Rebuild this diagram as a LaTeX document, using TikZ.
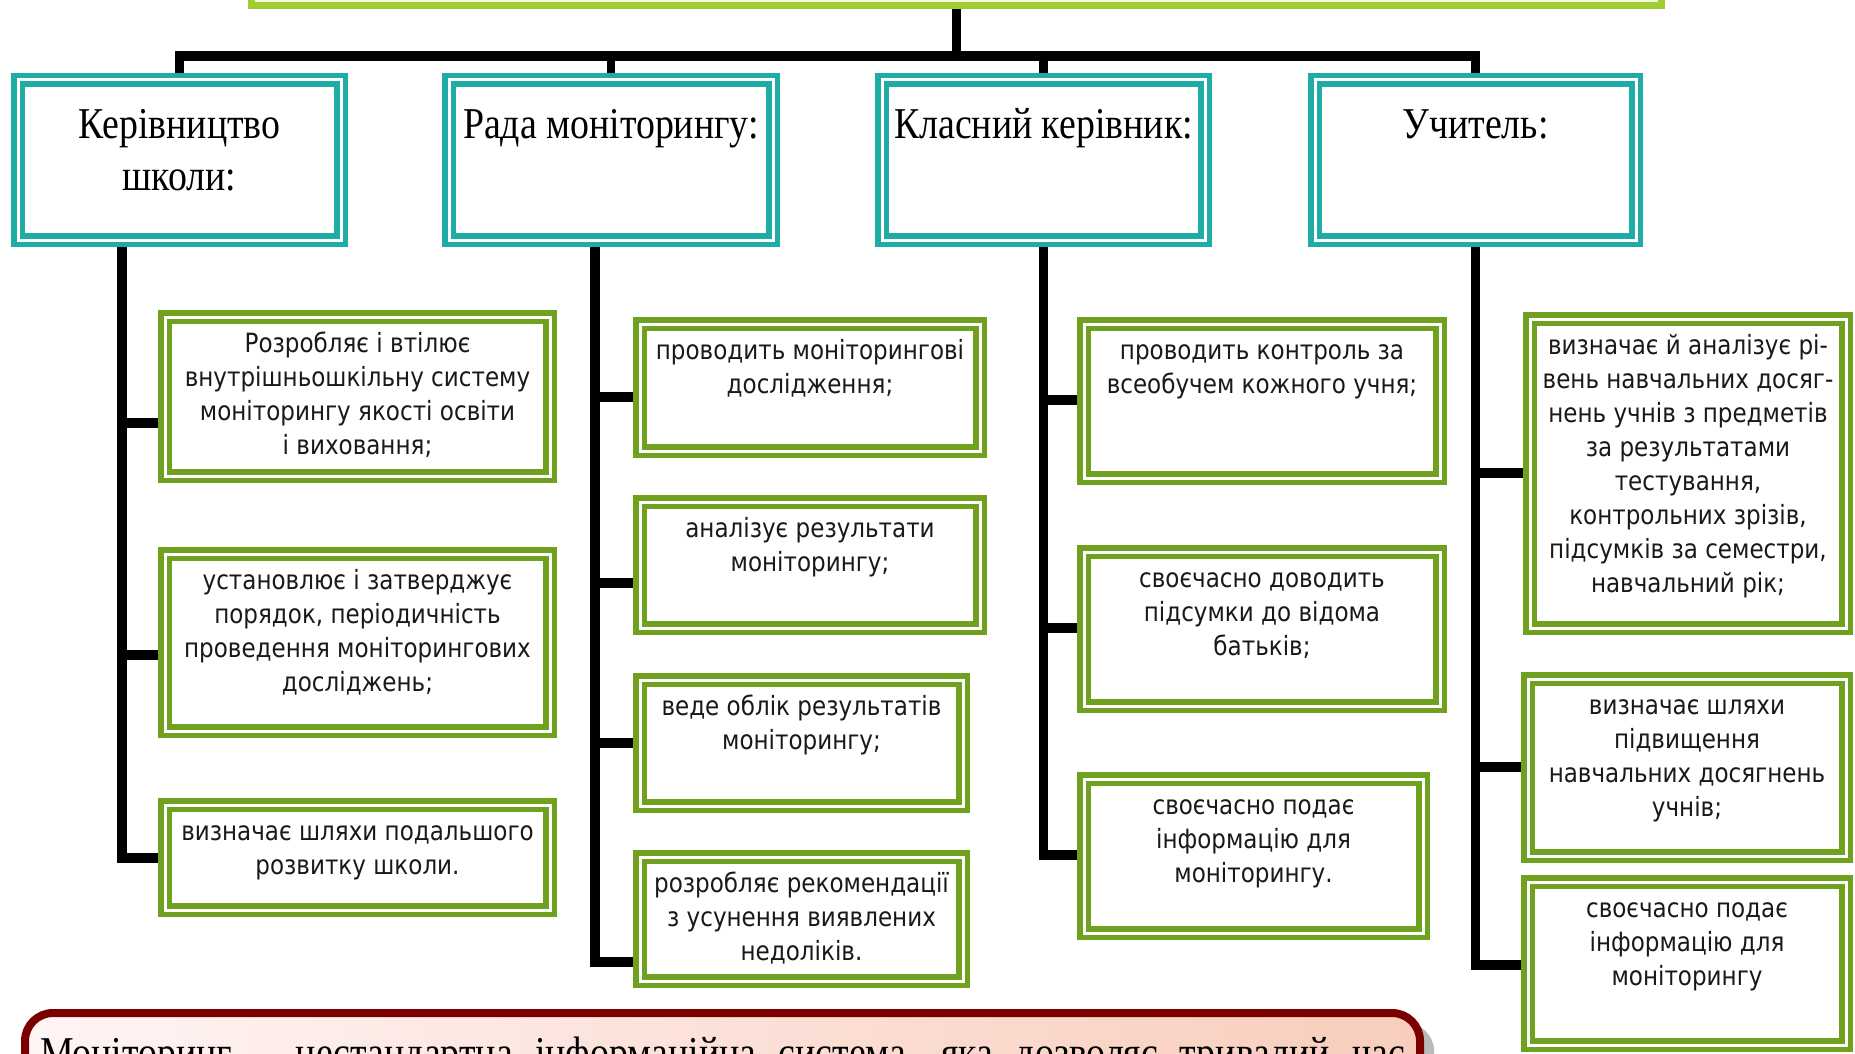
\documentclass[tikz,border=0pt]{standalone}
\usepackage{fontspec}
\setmainfont{Liberation Serif}[FakeStretch=0.86]
\newfontfamily\bodyfont{DejaVu Sans}[FakeStretch=0.87]
\usetikzlibrary{backgrounds,shadows}
\definecolor{tealc}{RGB}{31,172,166}
\definecolor{greenc}{RGB}{111,160,30}
\definecolor{topc}{RGB}{160,205,50}
\definecolor{topfill}{RGB}{242,249,220}
\definecolor{redc}{RGB}{122,0,0}
\definecolor{txtc}{RGB}{25,25,25}
\newcommand\bodytext[3]{\parbox[c][#2][t]{#1}{\centering\bodyfont\fontsize{26.5pt}{34pt}\selectfont\color{txtc}\vspace*{12pt}\strut #3}}
\newcommand\hdrtext[3]{\parbox[c][#2][t]{#1}{\centering\fontsize{44pt}{52pt}\selectfont\vspace*{22pt}\strut #3}}
\tikzset{
  gbox/.style={draw=greenc, double=white, double distance=3pt, line width=5.5pt,
    fill=white, inner sep=0pt, outer sep=0pt, rectangle, anchor=north west},
  hbox/.style={draw=tealc, double=white, double distance=3pt, line width=5.5pt,
    fill=white, inner sep=0pt, outer sep=0pt, rectangle, anchor=north west},
  topbox/.style={draw=topc, line width=7pt, fill=topfill, inner sep=0pt, rectangle},
  conn/.style={draw=black, line width=8.5pt, line cap=rect, line join=miter},
  busline/.style={draw=black, line width=9.5pt, line cap=rect, line join=miter},
  redbox/.style={draw=redc, line width=8pt, rounded corners=28pt, inner sep=0pt,
    left color=white!96!red, right color={rgb,255:red,248;green,205;blue,188}, anchor=north west,
    drop shadow={shadow xshift=14pt, shadow yshift=-10pt, fill=black!45, opacity=0.6}},
}
\begin{document}
\begin{tikzpicture}[x=1pt,y=-1pt]
\useasboundingbox (0,0) rectangle (1855,1054);
\clip (0,0) rectangle (1855,1054);
% top box
\node[topbox, minimum width=1410pt, minimum height=80pt, anchor=south] (top) at (956.5,9.5) {};
% header boxes
\node[hbox] (h1) at (18,80) {\hdrtext{323pt}{160pt}{Керівництво\\школи:}};
\node[hbox] (h2) at (449,80) {\hdrtext{324pt}{160pt}{Рада моніторингу:}};
\node[hbox] (h3) at (882,80) {\hdrtext{323pt}{160pt}{Класний керівник:}};
\node[hbox] (h4) at (1315,80) {\hdrtext{321pt}{160pt}{Учитель:}};
% column 1
\node[gbox] (a1) at (165,317) {\bodytext{385pt}{159pt}{Розробляє і втілює\\внутрішньошкільну систему\\моніторингу якості освіти\\і виховання;}};
\node[gbox] (a2) at (165,554) {\bodytext{385pt}{177pt}{установлює і затверджує\\порядок, періодичність\\проведення моніторингових\\досліджень;}};
\node[gbox] (a3) at (165,805) {\bodytext{385pt}{105pt}{визначає шляхи подальшого\\розвитку школи.}};
% column 2
\node[gbox] (b1) at (640,324) {\bodytext{340pt}{127pt}{проводить моніторингові\\дослідження;}};
\node[gbox] (b2) at (640,502) {\bodytext{340pt}{126pt}{аналізує результати\\моніторингу;}};
\node[gbox] (b3) at (640,680) {\bodytext{323pt}{126pt}{веде облік результатів\\моніторингу;}};
\node[gbox] (b4) at (640,857) {\bodytext{323pt}{124pt}{розробляє рекомендації\\з усунення виявлених\\недоліків.}};
% column 3
\node[gbox] (c1) at (1084,324) {\bodytext{356pt}{154pt}{проводить контроль за\\всеобучем кожного учня;}};
\node[gbox] (c2) at (1084,552) {\bodytext{356pt}{154pt}{своєчасно доводить\\підсумки до відома\\батьків;}};
\node[gbox] (c3) at (1084,779) {\bodytext{339pt}{154pt}{своєчасно подає\\інформацію для\\моніторингу.}};
% column 4
\node[gbox] (d1) at (1530,319) {\bodytext{316pt}{309pt}{визначає й аналізує рі-\\вень навчальних досяг-\\нень учнів з предметів\\за результатами\\тестування,\\контрольних зрізів,\\підсумків за семестри,\\навчальний рік;}};
\node[gbox] (d2) at (1528,679) {\bodytext{318pt}{177pt}{визначає шляхи\\підвищення\\навчальних досягнень\\учнів;}};
\node[gbox] (d3) at (1528,882) {\bodytext{318pt}{163pt}{своєчасно подає\\інформацію для\\моніторингу}};
% bottom red box
\node[redbox] (def) at (21,1009) {\parbox[c][200pt][t]{1395pt}{\centering\fontsize{44pt}{52pt}\selectfont\vspace*{18pt}\strut\makebox[1365pt][s]{Моніторинг – нестандартна інформаційна система, яка дозволяє тривалий час}}};
% connectors
\begin{pgfonlayer}{background}
\fill[white] (0,0) rectangle (1855,1054);
\draw[conn] (top.south) -- (top.south |- 0,56);
\draw[busline] (h1.north) -- (h1.north |- 0,56) -- (h4.north |- 0,56) -- (h4.north);
\draw[conn] (h2.north) -- (h2.north |- 0,56);
\draw[conn] (h3.north) -- (h3.north |- 0,56);
% column 1
\draw[busline] (h1.south -| 122,0) |- (a3.west |- 0,858);
\draw[busline] (a1.west |- 0,423) -- (122,423);
\draw[busline] (a2.west |- 0,655) -- (122,655);
% column 2
\draw[busline] (h2.south -| 595,0) |- (b4.west |- 0,962);
\draw[busline] (b1.west |- 0,397) -- (595,397);
\draw[busline] (b2.west |- 0,583) -- (595,583);
\draw[busline] (b3.west |- 0,743) -- (595,743);
% column 3
\draw[busline] (h3.south) |- (c3.west |- 0,855);
\draw[busline] (c1.west |- 0,400) -- (h3.south |- 0,400);
\draw[busline] (c2.west |- 0,628) -- (h3.south |- 0,628);
% column 4
\draw[busline] (h4.south) |- (d3.west |- 0,965);
\draw[busline] (d1.west |- 0,473) -- (h4.south |- 0,473);
\draw[busline] (d2.west |- 0,767) -- (h4.south |- 0,767);
\end{pgfonlayer}
\end{tikzpicture}
\end{document}
